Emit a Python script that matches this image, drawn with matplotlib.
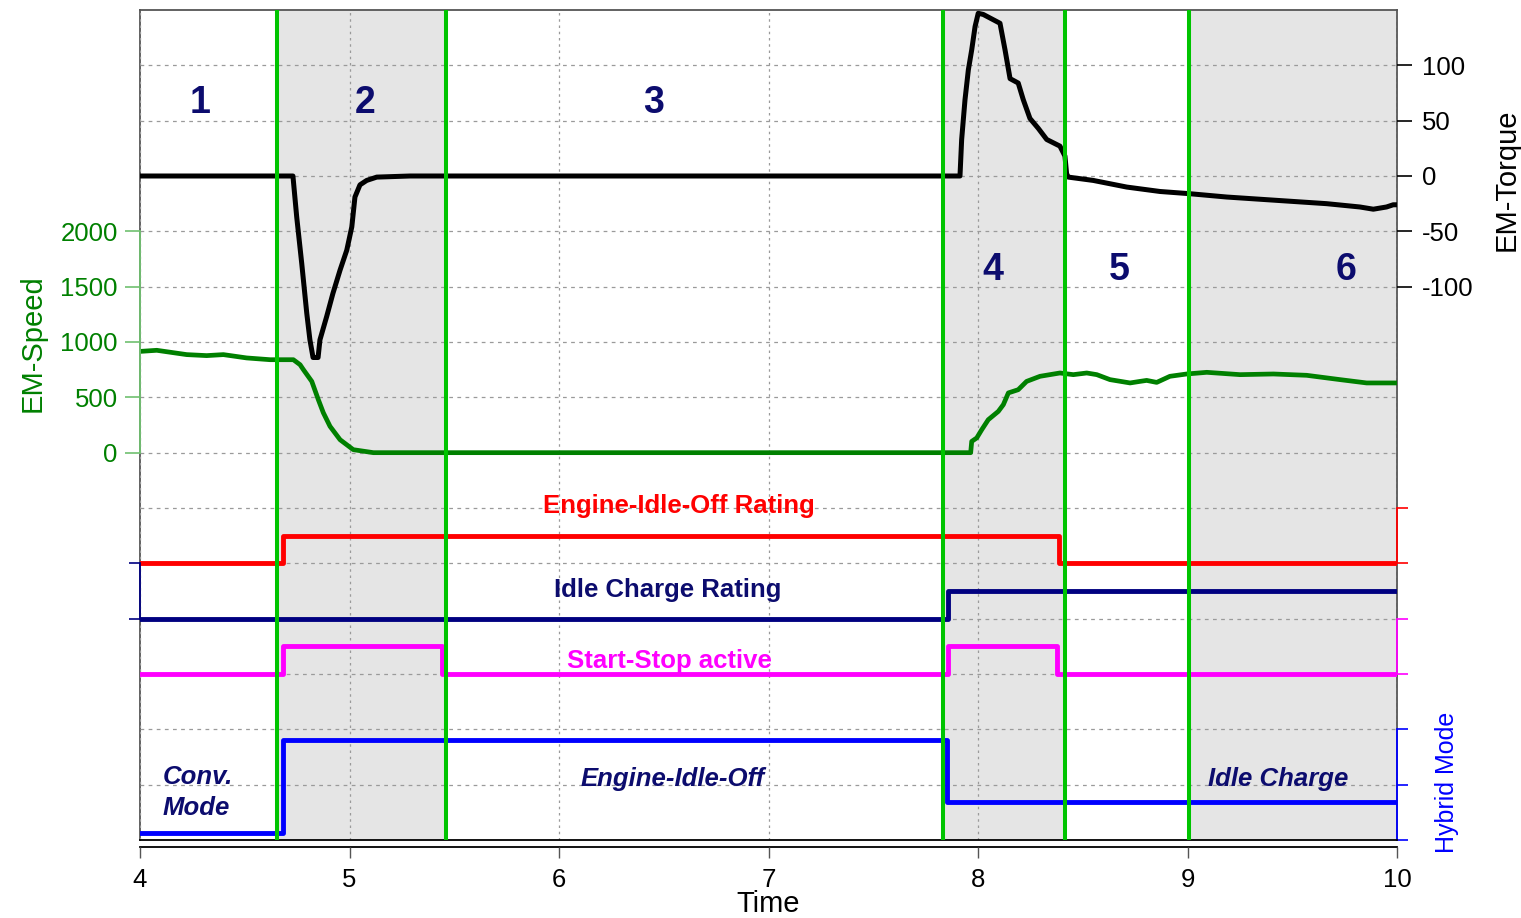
import matplotlib
matplotlib.use("Agg")
import matplotlib.pyplot as plt
import matplotlib.transforms as mtransforms

plt.rcParams["font.family"] = ["Liberation Sans", "DejaVu Sans"]
plt.rcParams["axes.unicode_minus"] = False

# EM speed trace (rpm)
speed_t = [4.000, 4.080, 4.223, 4.318, 4.398, 4.509, 4.621, 4.732, 4.764, 4.780,
           4.820, 4.851, 4.875, 4.907, 4.955, 5.018, 5.114, 7.965, 7.970, 7.994,
           8.018, 8.049, 8.097, 8.121, 8.145, 8.192, 8.232, 8.296, 8.391, 8.455,
           8.519, 8.567, 8.630, 8.726, 8.773, 8.805, 8.853, 8.916, 8.996, 9.092,
           9.251, 9.410, 9.569, 9.728, 9.855, 10.000]
speed_v = [915, 925, 886, 877, 886, 856, 840, 840, 795, 750,
           644, 480, 361, 238, 117, 27, 0, 0, 102, 133,
           208, 298, 373, 434, 540, 569, 644, 690, 720, 705,
           720, 705, 660, 630, 644, 653, 635, 690, 711, 726,
           705, 711, 699, 660, 630, 630]

# EM torque trace (Nm)
torque_t = [4.000, 4.730, 4.748, 4.772, 4.796, 4.811, 4.826, 4.850, 4.859, 4.891,
            4.921, 4.955, 4.987, 5.011, 5.026, 5.050, 5.082, 5.130, 5.289, 7.914,
            7.922, 7.938, 7.954, 7.970, 7.986, 8.001, 8.025, 8.105, 8.129, 8.153,
            8.192, 8.216, 8.248, 8.288, 8.328, 8.391, 8.415, 8.423, 8.431, 8.550,
            8.710, 8.869, 9.011, 9.187, 9.346, 9.505, 9.664, 9.823, 9.887, 9.950,
            9.982, 10.000]
torque_v = [0, 0, -37, -79, -124, -148, -164, -164, -148, -127,
            -106, -85, -67, -46, -19, -8, -4, -1, 0, 0,
            33, 69, 96, 114, 135, 147, 146, 138, 114, 88,
            84, 69, 52, 43, 33, 27, 18, 2, -1, -4,
            -10, -14, -16, -19, -21, -23, -25, -28, -30, -28,
            -26, -26]

# binary signals (steps-post)
eio_rating_t = [4.0, 4.683, 8.387, 10.0]
eio_rating_v = [0, 1, 0, 0]
idle_rating_t = [4.0, 7.857, 10.0]
idle_rating_v = [0, 1, 1]
start_stop_t = [4.0, 4.683, 5.441, 7.857, 8.377, 10.0]
start_stop_v = [0, 1, 0, 1, 0, 0]

# hybrid mode: 0 = conventional, 1 = idle charge, 3 = engine-idle-off
mode_t = [4.0, 4.683, 7.852, 10.0]
mode_v = [0, 3, 1, 1]

# phase boundaries
phase_edges = [4.654, 5.461, 7.833, 8.415, 9.007]
shaded_phases = [(4.654, 5.461), (7.833, 8.415), (9.007, 10.0)]
phase_names = ["1", "2", "3", "4", "5", "6"]

NAVY = "#0c0c6e"
FRAME = "#555555"

fig = plt.figure(figsize=(15.21, 9.18), dpi=100)
ax = fig.add_axes([140 / 1521, 1 - 840 / 918, 1257 / 1521, 830 / 918])

# frame axis in grid units
ax.set_xlim(4, 10)
ax.set_ylim(0, 15)
ax.set_yticks(range(1, 15))
ax.tick_params(axis="y", length=0, labelleft=False)
ax.set_xticks(range(4, 11))
ax.tick_params(axis="x", labelsize=18.5, length=8, width=1, pad=7, color=FRAME)
ax.set_xlabel("Time", fontsize=21, labelpad=-1)
ax.set_axisbelow(False)
ax.xaxis.grid(True, color="#9a9a9a", linestyle=(0, (2, 3)), linewidth=0.9)
ax.yaxis.grid(True, color="#9a9a9a", linestyle=(0, (3, 3.5)), linewidth=0.9)
for s in ax.spines.values():
    s.set_color(FRAME)
    s.set_linewidth(1.3)
ax.spines["bottom"].set_position(("outward", 5))
ax.spines["bottom"].set_color("black")
for a, b in shaded_phases:
    ax.axvspan(a, b, color="#e5e5e5", lw=0, zorder=1)


def twin(side, ylim, color, ticks, bounds, length=8):
    a = ax.twinx()
    a.set_ylim(*ylim)
    for s in a.spines.values():
        s.set_visible(False)
    if side == "left":
        a.yaxis.tick_left()
        a.yaxis.set_label_position("left")
    a.set_yticks(ticks)
    a.tick_params(axis="y", color=color, labelcolor=color, direction="out",
                  length=length, width=1.2)
    if bounds is not None:
        sp = a.spines[side]
        sp.set_visible(True)
        sp.set_color(color)
        sp.set_linewidth(1.3)
        sp.set_bounds(*bounds)
    return a


# EM-Speed (left, green)
ax_s = twin("left", (-3500, 4000), "#70c070", range(0, 2001, 500), (0, 2000), length=11)
ax_s.tick_params(axis="y", labelcolor="#008000", labelsize=18.5, pad=5)
ax_s.set_ylabel("EM-Speed", color="#008000", fontsize=21)
ax_s.yaxis.set_label_coords(-0.074, 0.599)
ax_s.plot(speed_t, speed_v, color="#008000", lw=3.4, solid_joinstyle="round")

# EM-Torque (right, black)
ax_t = twin("right", (-600, 150), "black", range(-100, 101, 50), None, length=11)
ax_t.tick_params(axis="y", labelsize=18.5, pad=7)
ax_t.set_ylabel("EM-Torque", color="black", fontsize=21)
ax_t.yaxis.set_label_coords(1.076, 0.795)
ax_t.plot(torque_t, torque_v, color="black", lw=3.6, solid_joinstyle="round")

# Engine-Idle-Off rating (right, red)
ax_r = twin("right", (-10, 20), "#ff0000", [0, 2], (0, 2))
ax_r.set_yticklabels([])
ax_r.plot(eio_rating_t, eio_rating_v, color="#ff0000", lw=3.5, drawstyle="steps-post")

# Idle charge rating (left, navy)
ax_i = twin("left", (-8, 22), "#000080", [0, 2], (0, 2))
ax_i.set_yticklabels([])
ax_i.plot(idle_rating_t, idle_rating_v, color="#000080", lw=3.5, drawstyle="steps-post")

# Start-Stop active (right, magenta)
ax_m = twin("right", (-6, 24), "#ff00ff", [0, 2], (0, 2))
ax_m.set_yticklabels([])
ax_m.plot(start_stop_t, start_stop_v, color="#ff00ff", lw=3.5, drawstyle="steps-post")

# Hybrid mode (right, blue)
mode_lo, mode_unit = -0.23, 1.785
ax_h = twin("right", (mode_lo, mode_lo + 15 * mode_unit), "#0000ff",
            [mode_lo + k * mode_unit for k in range(3)],
            (mode_lo, mode_lo + 2 * mode_unit))
ax_h.set_yticklabels([])
ax_h.set_ylabel("Hybrid Mode", color="#0000ff", fontsize=18)
ax_h.yaxis.set_label_coords(1.030, 0.069)
ax_h.plot(mode_t, mode_v, color="#0000ff", lw=3.5, drawstyle="steps-post")
ax_h.spines["bottom"].set_visible(True)
ax_h.spines["bottom"].set_color("black")
ax_h.spines["bottom"].set_linewidth(1.3)

# phase boundaries on top of everything
for x in phase_edges:
    ax_h.axvline(x, color="#00c400", lw=2.9, zorder=5)

tr = mtransforms.blended_transform_factory(ax.transData, ax.transAxes)
label_pos = [(4.286, 0.8755), (5.074, 0.8755), (6.453, 0.8755),
             (8.072, 0.6747), (8.673, 0.6747), (9.757, 0.6747)]
for name, (x, y) in zip(phase_names, label_pos):
    ax_h.text(x, y, name, transform=tr, ha="center", va="baseline",
              fontsize=27, fontweight="bold", color=NAVY, zorder=6)

ax_h.text(6.573, 0.394, "Engine-Idle-Off Rating", transform=tr, ha="center",
          va="baseline", fontsize=18.5, fontweight="bold", color="#ff0000")
ax_h.text(6.520, 0.2931, "Idle Charge Rating", transform=tr, ha="center",
          va="baseline", fontsize=18.5, fontweight="bold", color=NAVY)
ax_h.text(6.525, 0.2069, "Start-Stop active", transform=tr, ha="center",
          va="baseline", fontsize=18.5, fontweight="bold", color="#ff00ff")

ax_h.text(4.110, 0.057, "Conv.\nMode", transform=tr, ha="left", va="center",
          fontsize=18.5, fontweight="bold", fontstyle="italic", color=NAVY,
          linespacing=1.35)
ax_h.text(6.544, 0.065, "Engine-Idle-Off", transform=tr, ha="center", va="baseline",
          fontsize=18.5, fontweight="bold", fontstyle="italic", color=NAVY)
ax_h.text(9.432, 0.065, "Idle Charge", transform=tr, ha="center", va="baseline",
          fontsize=18.5, fontweight="bold", fontstyle="italic", color=NAVY)

fig.savefig("out.png", dpi=100)
